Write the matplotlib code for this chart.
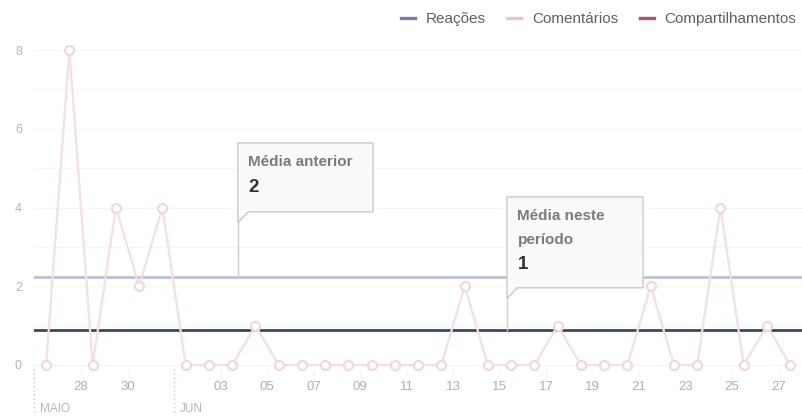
import matplotlib.pyplot as plt
from matplotlib.lines import Line2D
from matplotlib.patches import Polygon

plt.rcParams['font.family'] = ['Liberation Sans', 'DejaVu Sans']

# daily values, 26 May .. 27 Jun (one point per day, drawn at midday)
comentarios = [0, 8, 0, 4, 2, 4, 0, 0, 0, 1, 0, 0, 0, 0, 0, 0, 0, 0, 2, 0,
               0, 0, 1, 0, 0, 0, 2, 0, 0, 4, 0, 1, 0]
day_labels = ['28', '30', '03', '05', '07', '09', '11', '13', '15', '17',
              '19', '21', '23', '25', '27']
label_days = [2, 4, 8, 10, 12, 14, 16, 18, 20, 22, 24, 26, 28, 30, 32]
months = ['MAIO', 'JUN']
month_days = [0, 6]
media_anterior = 2.23
media_periodo = 0.9
legend_names = ['Reações', 'Comentários', 'Compartilhamentos']
legend_colors = ['#8a72ad', '#e9c5ce', '#b1506f']

fig = plt.figure(figsize=(8.03, 4.19), dpi=100)
ax = fig.add_axes([34.5 / 803, 1 - 375 / 419, 1 - 34.5 / 803, (375 - 30) / 419])

xs = [i + 0.5 for i in range(len(comentarios))]
ax.set_xlim(0, 33.05)
ax.set_ylim(-0.254, 8.508)

for v in range(0, 9):
    ax.axhline(v, color='#f8f5ee', lw=0.8, zorder=0)

ax.axhline(media_anterior, color='#b9c3d6', lw=2, zorder=2)
ax.axhline(media_periodo, color='#3a4766', lw=2, zorder=2)

ax.plot(xs, comentarios, color='#f3dfe4', lw=1.6, marker='o', ms=6.5,
        mfc='white', mec='#f1d8de', mew=1.6, zorder=3, clip_on=False)

for s in ax.spines.values():
    s.set_visible(False)
ax.set_yticks([0, 2, 4, 6, 8])
ax.set_yticklabels(['0', '2', '4', '6', '8'])
ax.set_xticks(label_days)
ax.set_xticklabels(day_labels)
ax.tick_params(axis='y', length=0, pad=9, labelsize=9, labelcolor='#b5b5b5')
ax.tick_params(axis='x', length=3, width=0.8, color='#f0f0f0', pad=4,
               labelsize=9.5, labelcolor='#b0b0b0', direction='in')

# month markers below the axis
for name, d in zip(months, month_days):
    ax.plot([d, d], [-0.1, -1.2], color='#c8c8c8', lw=1, ls=(0, (1, 2)),
            clip_on=False, zorder=1)
    ax.text(d + 0.25, -1.12, name, fontsize=8.5, color='#b5b5c3',
            va='center', ha='left')

# callout boxes
def callout(x0, x1, yb, yt, ymean, lines, value):
    nx = 0.45
    ny = 0.27
    box = Polygon([(x0, yt), (x1, yt), (x1, yb), (x0 + nx, yb),
                   (x0, yb - ny)], closed=True, fc='#fafafa', ec='#c9c9c9',
                  lw=1, zorder=5)
    ax.add_patch(box)
    ax.plot([x0, x0], [yb - ny, ymean], color='#cfcfcf', lw=1, zorder=4)
    y = yt - 0.48
    for ln in lines:
        ax.text(x0 + 0.45, y, ln, fontsize=11, fontweight='bold',
                color='#7b7b7b', va='center', ha='left', zorder=6)
        y -= 0.61
    ax.text(x0 + 0.45, y - 0.03, value, fontsize=13.5, fontweight='bold',
            color='#333333', va='center', ha='left', zorder=6)

callout(8.75, 14.56, 3.89, 5.64, media_anterior, ['Média anterior'], '2')
callout(20.32, 26.17, 1.96, 4.27, media_periodo,
        ['Média neste', 'período'], '1')

handles = [Line2D([], [], color=c, lw=2.4) for c in legend_colors]
leg = fig.legend(handles, legend_names, loc='upper right',
                 bbox_to_anchor=(1.005, 0.997), ncol=3, frameon=False,
                 fontsize=11, handlelength=0.9, handletextpad=0.7,
                 columnspacing=1.45, borderaxespad=0.3)
for t in leg.get_texts():
    t.set_color('#606060')

fig.savefig('out.png', dpi=100)
